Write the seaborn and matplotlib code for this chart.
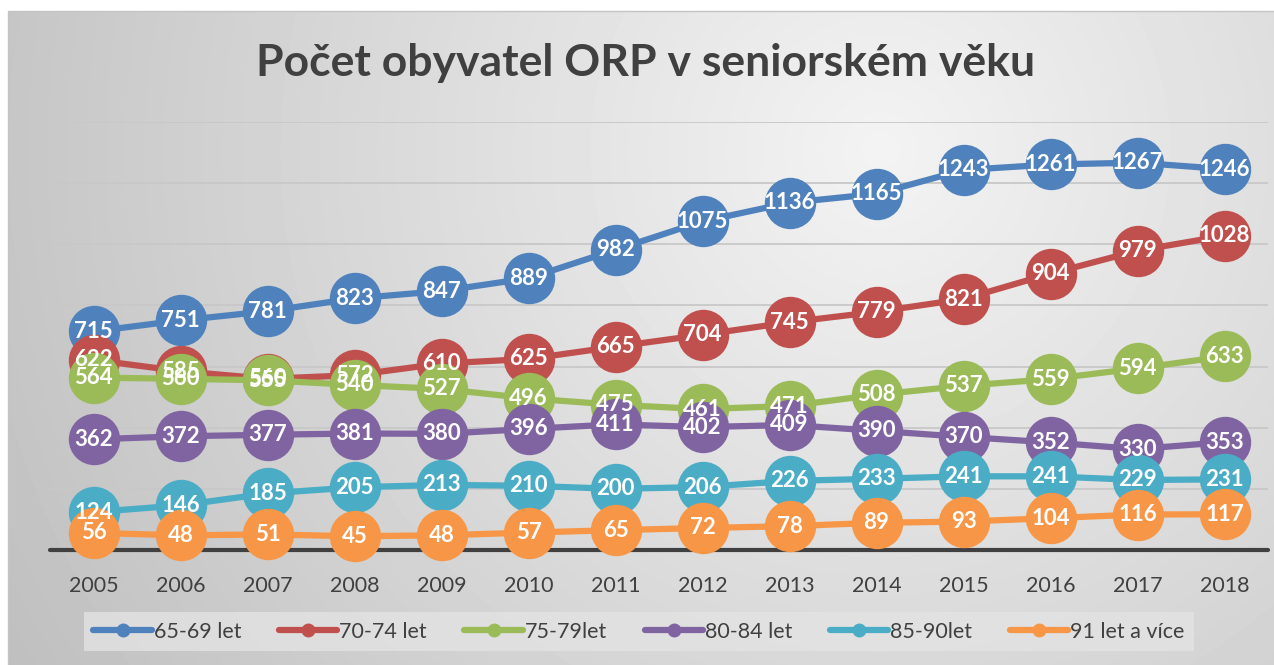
import pandas as pd
import seaborn as sns
import matplotlib.pyplot as plt
import numpy as np
from matplotlib.lines import Line2D

years = list(range(2005, 2019))
series_names = ["65-69 let", "70-74 let", "75-79let", "80-84 let", "85-90let", "91 let a více"]
v_65_69 = [715, 751, 781, 823, 847, 889, 982, 1075, 1136, 1165, 1243, 1261, 1267, 1246]
v_70_74 = [622, 585, 560, 572, 610, 625, 665, 704, 745, 779, 821, 904, 979, 1028]
v_75_79 = [564, 560, 555, 540, 527, 496, 475, 461, 471, 508, 537, 559, 594, 633]
v_80_84 = [362, 372, 377, 381, 380, 396, 411, 402, 409, 390, 370, 352, 330, 353]
v_85_90 = [124, 146, 185, 205, 213, 210, 200, 206, 226, 233, 241, 241, 229, 231]
v_91 = [56, 48, 51, 45, 48, 57, 65, 72, 78, 89, 93, 104, 116, 117]
colors = ["#4f81bd", "#c0504d", "#9bbb59", "#8064a2", "#4bacc6", "#f79646"]

all_vals = [v_65_69, v_70_74, v_75_79, v_80_84, v_85_90, v_91]
rows = []
for name, vals in zip(series_names, all_vals):
    for y, v in zip(years, vals):
        rows.append({"rok": y, "pocet": v, "skupina": name})
df = pd.DataFrame(rows)

sns.set_style("white")
plt.rcParams['font.family'] = ['Lato', 'DejaVu Sans']

W, H = 1274, 665
fig = plt.figure(figsize=(W / 100, H / 100), dpi=100)
fig.patch.set_facecolor("white")

# gray gradient background of the chart area
bg = fig.add_axes([0, 0, 1, 1], zorder=-5)
xx, yy = np.meshgrid(np.arange(W), np.arange(H))
d = np.sqrt((xx - 880) ** 2 + (yy - 150) ** 2)
grad = 243 - 52 * d / 1012
bg.imshow(grad, cmap="gray", vmin=0, vmax=255, extent=(0, W, H, 0), aspect="auto")
bg.add_patch(plt.Rectangle((0, 0), 8, H, color="white", lw=0))
bg.add_patch(plt.Rectangle((0, 0), W, 11, color="white", lw=0))
bg.plot([8, 8, W], [H, 11, 11], color="#c4c4c4", lw=1)
bg.set_xlim(0, W)
bg.set_ylim(H, 0)
bg.axis("off")

ax = fig.add_axes([50 / W, 115 / H, 1218 / W, 428 / H])
ax.patch.set_alpha(0)
sns.lineplot(data=df, x="rok", y="pocet", hue="skupina", palette=colors,
             hue_order=series_names, marker="o", markersize=37, linewidth=4.5,
             markeredgewidth=0, legend=False, ax=ax)
for ln in ax.lines:
    ln.set_clip_on(False)

for vals in all_vals:
    for y, v in zip(years, vals):
        ax.text(y, v, str(v), ha="center", va="center", color="white",
                fontsize=16, fontweight="bold", zorder=10, clip_on=False)

ax.set_xlim(2004.5, 2018.5)
ax.set_ylim(0, 1400)
ax.set_yticks(range(0, 1401, 200))
ax.set_yticklabels([])
ax.yaxis.grid(True, color="#c8c8c8", lw=1.3)
ax.set_axisbelow(True)
ax.tick_params(axis="y", length=0)
ax.set_xticks(years)
ax.set_xticklabels([str(y) for y in years], fontsize=15.5, color="#404040")
ax.tick_params(axis="x", length=0, pad=19)
for s in ax.spines.values():
    s.set_visible(False)
ax.axhline(0, color="#404040", lw=3, zorder=1.5, clip_on=False)
ax.set_xlabel("")
ax.set_ylabel("")

fig.text(0.507, (H - 63) / H, "Počet obyvatel ORP v seniorském věku", ha="center", va="center",
         fontsize=32, fontweight="bold", color="#404040")

handles = [Line2D([0], [0], color=c, lw=4.5, marker="o", markersize=9, solid_capstyle="round")
           for c in colors]
leg = fig.legend(handles, series_names, loc="center", bbox_to_anchor=(0.5016, 0.05), ncol=6,
                 frameon=True, facecolor="#e3e3e3", edgecolor="none", fancybox=False,
                 fontsize=15.5, handlelength=2.7, handletextpad=0.1, columnspacing=1.75,
                 borderpad=0.45)
for t in leg.get_texts():
    t.set_color("#404040")

fig.savefig("out.png", dpi=100)
